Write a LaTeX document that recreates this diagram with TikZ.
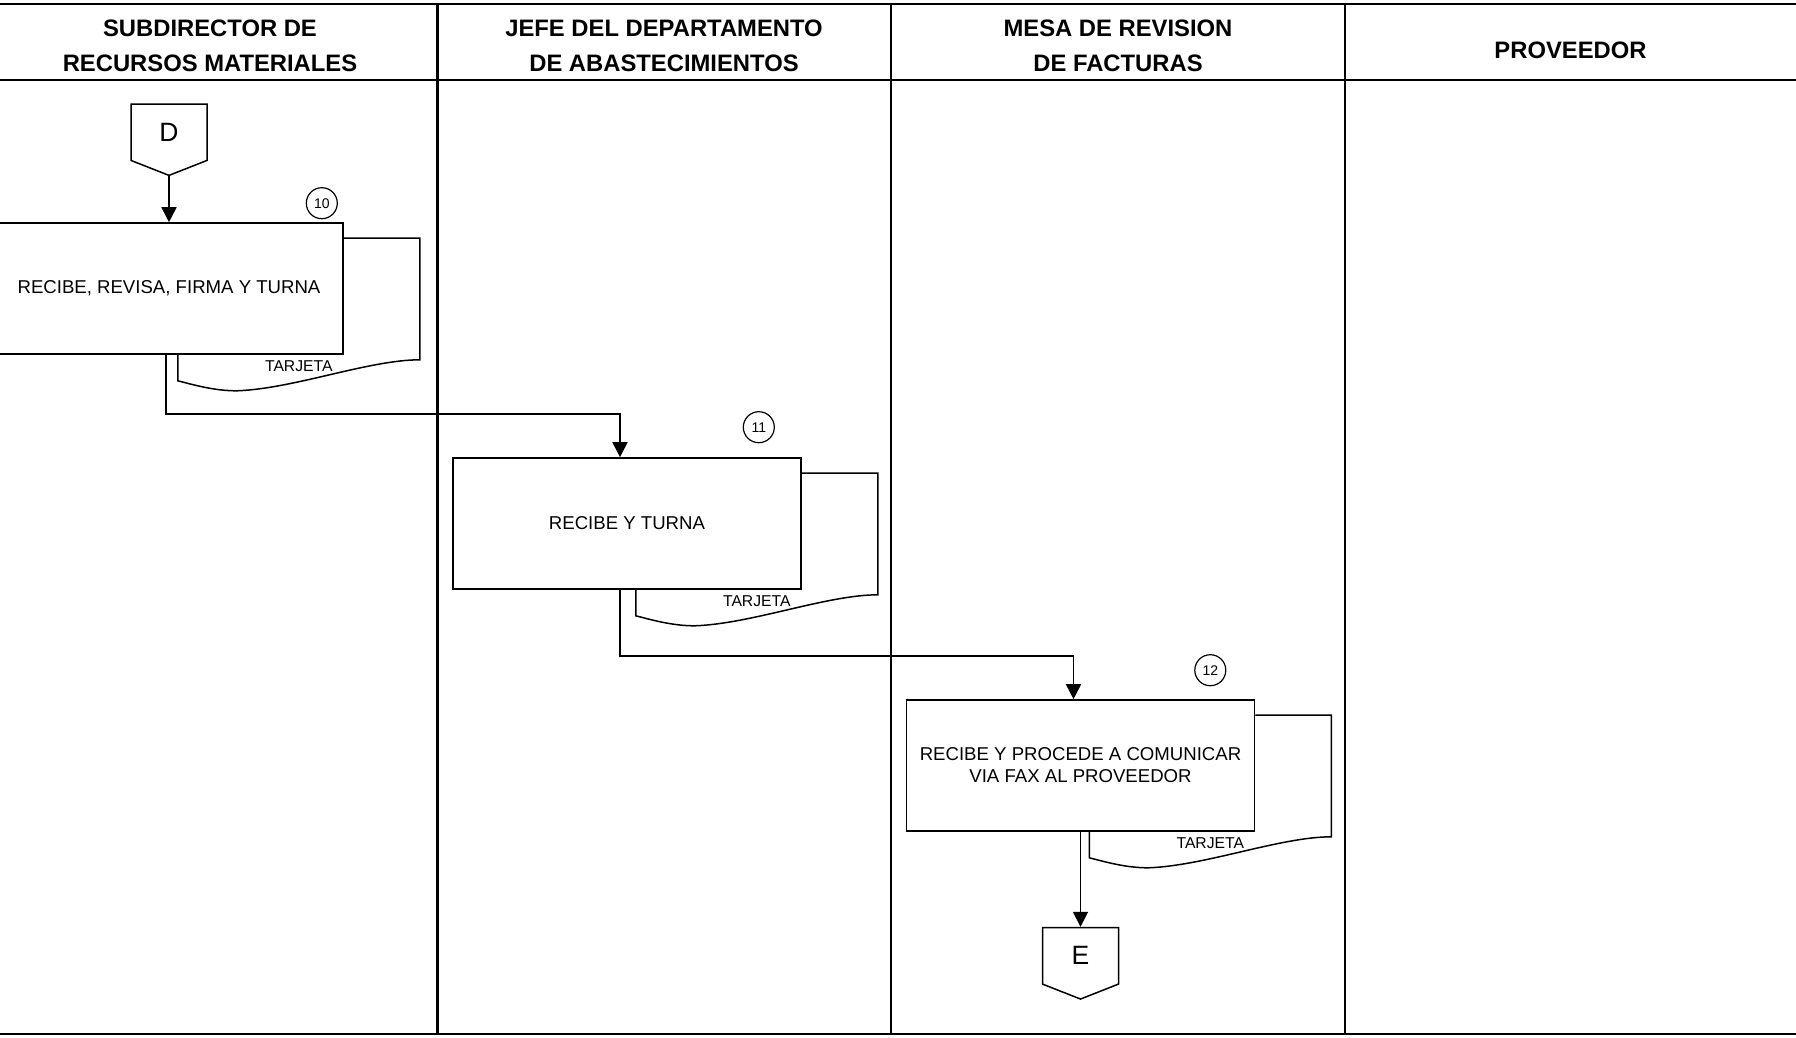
\documentclass[tikz,border=0pt]{standalone}
\usepackage{fontspec}
\setmainfont{Liberation Sans}
\usepackage{xcolor}
\usepackage{tikz}
\usetikzlibrary{arrows.meta, positioning, shapes.symbols}
\definecolor{flowink}{HTML}{000000}
\tikzset{
  lanehead/.style={align=center, font=\fontsize{23.8}{35}\selectfont\bfseries, text=flowink, inner sep=0pt},
  lanerule/.style={draw=flowink, line width=2.2pt},
  pbox/.style={draw=flowink, fill=white, minimum width=348pt, minimum height=131pt, align=center,
    font=\fontsize{18.6}{22}\selectfont, text=flowink, line width=1.6pt, inner sep=0pt},
  docedge/.style={draw=flowink, line width=1.5pt},
  doclabel/.style={font=\fontsize{15.7}{18}\selectfont, text=flowink, inner sep=0pt},
  stepnum/.style={circle, draw=flowink, line width=1.2pt, minimum size=31pt, inner sep=0pt,
    font=\fontsize{14}{14}\selectfont},
  offpage/.style={shape=signal, signal from=nowhere, signal to=south, signal pointer angle=137,
    draw=flowink, fill=white, line width=1.5pt, minimum width=76pt, minimum height=60pt,
    font=\fontsize{26.5}{26.5}\selectfont, inner sep=0pt},
  flow/.style={-{Triangle[length=15pt, width=15pt]}, draw=flowink, line width=1.7pt}
}
\begin{document}
\begin{tikzpicture}[x=1pt, y=-1pt]
\useasboundingbox (0,0) rectangle (1796,1037);
% lanes
\draw[lanerule] (0,4) -- (1796,4);
\draw[lanerule] (0,80) -- (1796,80);
\draw[lanerule] (0,1034) -- (1796,1034);
\foreach \lx in {437.5, 891, 1345} \draw[lanerule] (\lx,4) -- (\lx,1034);
\node[lanehead] (subdir) at (210,46) {SUBDIRECTOR DE\\RECURSOS MATERIALES};
\node[lanehead] (jefe) at (664,46) {JEFE DEL DEPARTAMENTO\\DE ABASTECIMIENTOS};
\node[lanehead] (mesa) at (1118,46) {MESA DE REVISION\\DE FACTURAS};
\node[lanehead] (prov) at (1570.5,50) {PROVEEDOR};
% steps
\node[pbox] (b1) at (169,288.5) {RECIBE, REVISA, FIRMA Y TURNA};
\node[pbox] (b2) at (627,523.5) {RECIBE Y TURNA};
\node[pbox] (b3) at (1080.5,765.5) {RECIBE Y PROCEDE A COMUNICAR\\VIA FAX AL PROVEEDOR};
\foreach \b in {b1, b2, b3} {
  \draw[docedge] ([shift={(0,16)}]\b.north east) -- ([shift={(76,16)}]\b.north east)
    -- ([shift={(76,5)}]\b.south east)
    .. controls ([shift={(25,5)}]\b.south east) and ([shift={(-50,34)}]\b.south east) .. ([shift={(-107,36)}]\b.south east)
    .. controls ([shift={(-130,36)}]\b.south east) and ([shift={(-150,30)}]\b.south east) .. ([shift={(-166,26)}]\b.south east)
    -- ([shift={(-166,0)}]\b.south east);
  \node[doclabel] at ([shift={(-45,11)}]\b.south east) {TARJETA};
}
\node[stepnum] (n10) at ([shift={(-22,-19)}]b1.north east) {10};
\node[stepnum] (n11) at ([shift={(-43,-30)}]b2.north east) {11};
\node[stepnum] (n12) at ([shift={(-45,-29)}]b3.north east) {12};
\node[offpage, above=46pt of b1] (d) {D};
\node[offpage, below=95pt of b3, anchor=north] (e) {E};
% connectors
\draw[flow] (d.south) -- (b1.north);
\draw[flow] ([xshift=-3pt]b1.south) -- ++(0,59) -| ([xshift=-7pt]b2.north);
\draw[flow] ([xshift=-7pt]b2.south) -- ++(0,66) -| ([xshift=-7pt]b3.north);
\draw[flow] (b3.south) -- (e.north);
\end{tikzpicture}
\end{document}
